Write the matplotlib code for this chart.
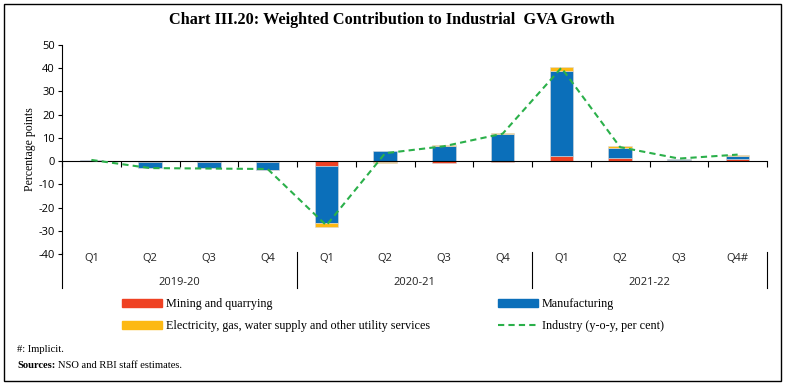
import matplotlib
matplotlib.use("Agg")
import matplotlib.pyplot as plt
from matplotlib.patches import Rectangle
from matplotlib.lines import Line2D
import numpy as np

plt.rcParams["axes.unicode_minus"] = False

# dados
quarters = ["Q1", "Q2", "Q3", "Q4", "Q1", "Q2", "Q3", "Q4", "Q1", "Q2", "Q3", "Q4#"]
years = ["2019-20", "2020-21", "2021-22"]
mining = [0.1, -0.3, -0.3, -0.2, -2.2, -0.5, -0.6, -0.5, 2.2, 1.2, 0.5, 0.8]
manufacturing = [0.2, -2.6, -2.7, -3.5, -24.5, 4.2, 6.5, 11.5, 36.8, 4.5, 0.3, 1.4]
electricity = [0.3, -0.1, -0.1, -0.1, -1.6, -0.4, 0.3, 0.6, 1.6, 0.9, 0.3, 0.6]
industry = [0.5, -3.0, -3.2, -3.4, -27.7, 3.4, 6.4, 11.8, 40.2, 6.0, 1.1, 2.8]

RED = "#ef4123"
BLUE = "#0b6fba"
YELLOW = "#fdb913"
GREEN = "#2bb04a"
SERIF = ["Liberation Serif", "DejaVu Serif"]
SANS = ["Open Sans", "DejaVu Sans"]

fig = plt.figure(figsize=(7.85, 3.84), dpi=100)
ax = fig.add_axes([62 / 785, 1 - 254 / 384, 705 / 785, 209 / 384])

x = np.arange(len(quarters))
w = 0.4

# empilhar positivos e negativos separadamente
pos_base = np.zeros(len(x))
neg_base = np.zeros(len(x))
for vals, cor in [(mining, RED), (manufacturing, BLUE), (electricity, YELLOW)]:
    vals = np.array(vals)
    base = np.where(vals >= 0, pos_base, neg_base)
    ax.bar(x, vals, w, bottom=base, color=cor, edgecolor="#d9d9d9", linewidth=0.4, zorder=2)
    pos_base = pos_base + np.where(vals >= 0, vals, 0)
    neg_base = neg_base + np.where(vals < 0, vals, 0)

ax.plot(x, industry, color=GREEN, linestyle=(0, (3, 2)), linewidth=1.5, zorder=3)

ax.set_xlim(-0.5, len(x) - 0.5)
ax.set_ylim(-40, 50)
ax.set_yticks(range(-40, 51, 10))
for lab in ax.get_yticklabels():
    lab.set_fontfamily(SANS)
ax.tick_params(axis="y", labelsize=8, length=3, width=0.8, pad=2)
ax.set_xticks(np.arange(-0.5, len(x), 1.0))
ax.set_xticklabels([])
ax.tick_params(axis="x", length=4, width=0.8, direction="out")
ax.spines["bottom"].set_position(("data", 0))
ax.spines["top"].set_visible(False)
ax.spines["right"].set_visible(False)
ax.set_ylabel("Percentage points", fontfamily=SERIF, fontsize=8.5, labelpad=2)

# rótulos dos trimestres e dos anos
trans = ax.get_xaxis_transform()
for i, q in enumerate(quarters):
    ax.text(i, -0.022, q, transform=trans, ha="center", va="center",
            fontsize=8, fontfamily=SANS, color="#222222")
for j, ano in enumerate(years):
    ax.text(j * 4 + 1.5, -0.135, ano, transform=trans, ha="center", va="center",
            fontsize=8, fontfamily=SANS, color="#222222")
for k in range(4):
    ax.plot([k * 4 - 0.5, k * 4 - 0.5], [0.01, -0.163], transform=trans,
            color="black", linewidth=0.8, clip_on=False)

fig.text(392 / 785, 1 - 20 / 384, "Chart III.20: Weighted Contribution to Industrial  GVA Growth",
         ha="center", va="center", fontsize=11.7, fontweight="bold", fontfamily=SERIF)

# legenda em duas colunas separadas
leg_kw = dict(loc="upper left", frameon=False, prop={"family": SERIF, "size": 8.7},
              handlelength=3.3, handleheight=0.66, handletextpad=0.33, labelspacing=0.84,
              borderpad=0, borderaxespad=0)
leg1 = fig.legend([Rectangle((0, 0), 1, 1, color=RED), Rectangle((0, 0), 1, 1, color=YELLOW)],
                  ["Mining and quarrying", "Electricity, gas, water supply and other utility services"],
                  bbox_to_anchor=(122 / 785, 1 - 298 / 384), **leg_kw)
leg2 = fig.legend([Rectangle((0, 0), 1, 1, color=BLUE),
                   Line2D([], [], color=GREEN, linestyle=(0, (3, 2)), linewidth=1.5)],
                  ["Manufacturing", "Industry (y-o-y, per cent)"],
                  bbox_to_anchor=(498 / 785, 1 - 298 / 384), **leg_kw)

fig.text(17 / 785, 1 - 350 / 384, "#: Implicit.", fontsize=7.6, fontfamily=SERIF, va="center")
t_src = fig.text(17 / 785, 1 - 365 / 384, "Sources:", fontsize=7.6, fontfamily=SERIF,
                 fontweight="bold", va="center")
ax.annotate("NSO and RBI staff estimates.", xy=(1, 0.5), xycoords=t_src, xytext=(2, 0),
            textcoords="offset points", fontsize=7.6, fontfamily=SERIF, va="center",
            annotation_clip=False)

fig.patches.append(Rectangle((4 / 785, 3 / 384), 777 / 785, 377 / 384, transform=fig.transFigure,
                             fill=False, edgecolor="black", linewidth=1.0))

fig.savefig("out.png", dpi=100)
